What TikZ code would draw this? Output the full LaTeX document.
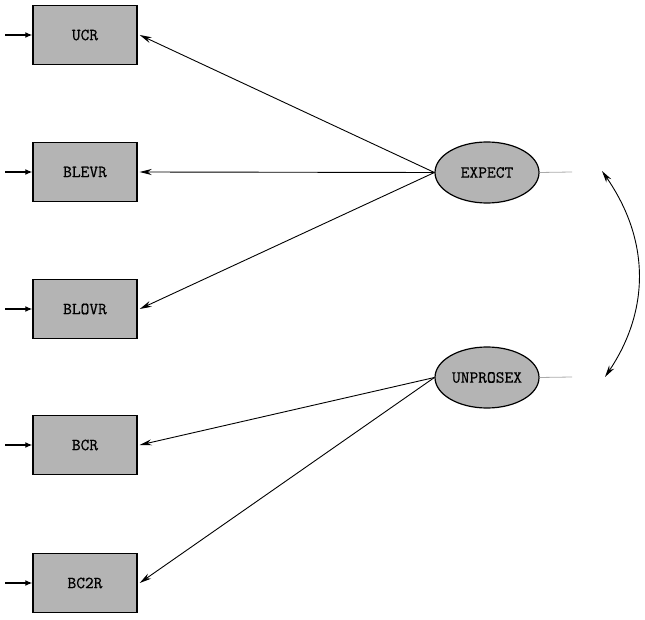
\documentclass[tikz,border=0pt]{standalone}
\usepackage{fontspec}
\usetikzlibrary{arrows.meta,shapes.geometric}
\newfontfamily\lblfont[FakeBold=0.6]{Latin Modern Mono}
\definecolor{boxgray}{RGB}{180,180,180}
\definecolor{lightline}{RGB}{170,170,170}
\begin{document}
\begin{tikzpicture}[x=1pt,y=-1pt,
  lbl/.style={font=\lblfont\fontsize{17}{19}\selectfont},
  obs/.style={lbl,draw=black,line width=1.4pt,fill=boxgray,minimum width=104pt,minimum height=59pt,inner sep=0pt},
  lat/.style={lbl,ellipse,draw=black,line width=1.2pt,fill=boxgray,minimum width=104pt,minimum height=61pt,inner sep=0pt},
  load/.style={line width=0.9pt,-{Stealth[length=12pt,width=6pt]}},
  err/.style={line width=1.3pt,-{Latex[length=7pt,width=6pt]}},
  resid/.style={draw=lightline,line width=0.8pt},
  cov/.style={line width=0.9pt,{Stealth[length=12pt,width=6pt]}-{Stealth[length=12pt,width=6pt]}}]
\useasboundingbox (0,0) rectangle (645,620);
\node[obs] (ucr) at (85,35) {UCR};
\node[obs] (blevr) at (85,172) {BLEVR};
\node[obs] (blovr) at (85,309) {BLOVR};
\node[obs] (bcr) at (85,445) {BCR};
\node[obs] (bc2r) at (85,583) {BC2R};
\node[lat] (expect) at (487,172.5) {EXPECT};
\node[lat] (unpro) at (487,377.5) {UNPROSEX};
\coordinate (e1) at (5,35);
\coordinate (e2) at (5,172);
\coordinate (e3) at (5,309);
\coordinate (e4) at (5,445);
\coordinate (e5) at (5,583);
\draw[err] (e1) -- (ucr.west);
\draw[err] (e2) -- (blevr.west);
\draw[err] (e3) -- (blovr.west);
\draw[err] (e4) -- (bcr.west);
\draw[err] (e5) -- (bc2r.west);
\draw[load] (expect.west) -- ([xshift=2pt]ucr.east);
\draw[load] (expect.west) -- ([xshift=2pt]blevr.east);
\draw[load] (expect.west) -- ([xshift=2pt]blovr.east);
\draw[load] (unpro.west) -- ([xshift=2pt]bcr.east);
\draw[load] (unpro.west) -- ([xshift=2pt]bc2r.east);
\coordinate (r1) at (572,172);
\coordinate (r2) at (572,377);
\draw[resid] (expect.east) -- (r1);
\draw[resid] (unpro.east) -- (r2);
\coordinate (c1) at (602,171);
\coordinate (c2) at (605,377);
\draw[cov] (c1) .. controls (650,240) and (650,310) .. (c2);
\end{tikzpicture}
\end{document}
